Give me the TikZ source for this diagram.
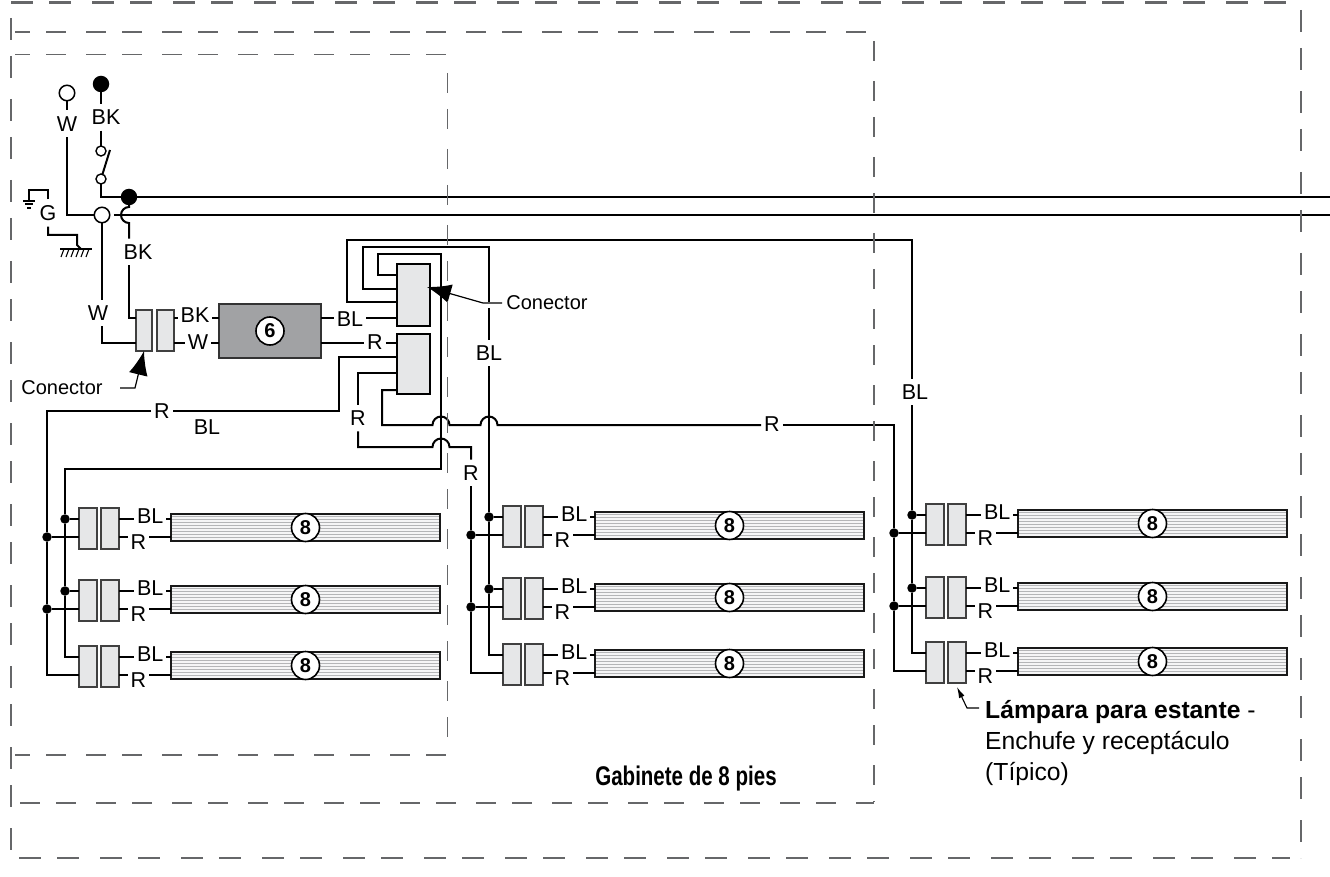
\documentclass[tikz,border=0pt]{standalone}
\usepackage{fontspec}
\setmainfont{Liberation Sans}
\newfontfamily\narrowbold[FakeStretch=0.76]{Liberation Sans Bold}
\usepackage{xcolor}
\usepackage{tikz}
\usetikzlibrary{arrows.meta, positioning, calc}
\definecolor{framegray}{HTML}{666769}
\definecolor{plugfill}{HTML}{E6E7E8}
\definecolor{ballastfill}{HTML}{A1A2A4}
\definecolor{stripegray}{HTML}{B4B5B7}
\tikzset{
	every node/.style={
		align=center,
	},
	every path/.style={
		align=center,
	},
}
\tikzstyle{wire} = [line width=2pt,black,line join=miter]
\tikzstyle{bus} = [line width=2.8pt,black]
\tikzstyle{outerframe} = [framegray,line width=2.4pt,dash pattern=on 22pt off 16pt on 22pt off 21pt]
\tikzstyle{caseframe} = [framegray,line width=2pt,dash pattern=on 20pt off 16pt on 20pt off 20pt]
\tikzstyle{shelfframe} = [framegray,line width=1.4pt,dash pattern=on 20pt off 16pt on 20pt off 20pt]
\tikzstyle{lbl} = [font=\fontsize{21.5}{24}\selectfont,inner xsep=3pt,inner ysep=6pt,outer sep=0pt]
\tikzstyle{note} = [font=\fontsize{20}{24}\selectfont,inner sep=0pt]
\tikzstyle{num} = [circle,draw=black,fill=white,line width=1.6pt,minimum size=28pt,inner sep=0pt,font=\fontsize{20}{20}\selectfont\bfseries]
\tikzstyle{plug} = [rectangle,draw=black!75,fill=plugfill,line width=1.1pt,minimum width=18pt,minimum height=41pt,inner sep=0pt,outer sep=0pt]
\tikzstyle{conbox} = [rectangle,draw=black,fill=plugfill,line width=1.6pt,minimum width=33pt,inner sep=0pt,outer sep=0pt]
\tikzstyle{ballast} = [rectangle,draw=black!80,fill=ballastfill,line width=1.3pt,minimum width=102pt,minimum height=54pt,inner sep=0pt,outer sep=0pt]
\tikzstyle{lamp} = [rectangle,draw=black!90,fill=plugfill!40,line width=1.3pt,minimum width=269pt,minimum height=27pt,inner sep=0pt,outer sep=0pt,
	path picture={
		\foreach \s in {2,5,8,11,14,17,20,23,26} {
			\draw[stripegray,line width=1pt] ([yshift=-\s pt]path picture bounding box.north west) -- ([yshift=-\s pt]path picture bounding box.north east);
		}
	}]
\tikzstyle{joint} = [circle,fill=black,minimum size=9.5pt,inner sep=0pt,outer sep=0pt]
\tikzstyle{source} = [circle,draw=black,fill=white,line width=1.5pt,minimum size=15.5pt,inner sep=0pt,outer sep=0pt]
\tikzstyle{solidsource} = [circle,fill=black,minimum size=16.5pt,inner sep=0pt,outer sep=0pt]
\tikzstyle{swpoint} = [circle,draw=black,fill=white,line width=1.4pt,minimum size=10pt,inner sep=0pt,outer sep=0pt]
\tikzstyle{bigpointer} = [line width=1.2pt,-{Latex[length=24pt,width=19pt]}]
\tikzstyle{smallpointer} = [line width=1.1pt,-{Latex[length=11pt,width=6pt]}]

\newcommand{\lampRow}[3]{
    \node[plug, anchor=north west] (#1p) at (#2,#3) {};
    \node[plug, right=4pt of #1p] (#1q) {};
    \node[lamp, right=52pt of #1q, yshift=1pt] (#1lamp) {};
    \node[num] (#1num) at (#1lamp) {8};
    \coordinate (#1u) at ([yshift=-11pt]#1p.north west);
    \coordinate (#1l) at ([yshift=-29pt]#1p.north west);
    \node[lbl, right=15pt of #1q, yshift=12.5pt] (#1bl) {BL};
    \node[lbl, right=8.5pt of #1q, yshift=-13.5pt] (#1r) {R};
    \draw[wire] (#1q.east |- #1u) -- (#1bl.west |- #1u);
    \draw[wire] (#1bl.east |- #1u) -- (#1lamp.west |- #1u);
    \draw[wire] (#1q.east |- #1l) -- (#1r.west |- #1l);
    \draw[wire] (#1r.east |- #1l) -- (#1lamp.west |- #1l);
}

\begin{document}
\begin{tikzpicture}[x=1pt,y=-1pt]
    \useasboundingbox (0,0) rectangle (1330,877);

    \node[source] (srcW) at (67,93) {};
    \node[solidsource] (srcBK) at (101,84) {};
    \node[lbl, below=9.5pt of srcW] (lblW) {W};
    \node[lbl, below=11.5pt of srcBK, xshift=5pt] (lblBK) {BK};
    \node[swpoint] (swTop) at (101,151) {};
    \node[swpoint] (swBot) at (101,179) {};
    \coordinate (bladeEnd) at (110,150);
    \node[solidsource] (junBK) at (129,197) {};
    \node[source] (junW) at (102,215) {};
    \coordinate (busBK) at (1330,197);
    \coordinate (busW) at (1330,215);
    \coordinate (hopBK) at (129,207);

    \node[lbl] (lblG) at (48,213) {G};
    \coordinate (gndE) at (29,201);
    \coordinate (gndC) at (81,249);

    \node[lbl] (lblBKb) at (138,252) {BK};
    \node[lbl] (lblWb) at (98,313) {W};

    \node[plug, anchor=north west, minimum width=16pt] (inL) at (136,310) {};
    \node[plug, right=5pt of inL, minimum width=17pt] (inR) {};
    \coordinate (inLu) at ([yshift=-8pt]inL.north west);
    \coordinate (inLd) at ([yshift=-33pt]inL.north west);
    \node[lbl] (lblBKc) at (195,315) {BK};
    \node[lbl] (lblWc) at (198,342) {W};
    \node[ballast] (ball) at (270,331) {};
    \node[num] (ballnum) at (ball) {6};
    \node[lbl] (lblBLa) at (350,319) {BL};
    \node[lbl] (lblRe) at (375,342) {R};

    \node[conbox, anchor=north west, minimum height=62pt] (conA) at (397,264) {};
    \node[conbox, below=8pt of conA, minimum height=60pt] (conB) {};
    \coordinate (a1) at ([yshift=-11pt]conA.north west);
    \coordinate (a2) at ([yshift=-25pt]conA.north west);
    \coordinate (a3) at ([yshift=-38pt]conA.north west);
    \coordinate (a4) at ([yshift=-54pt]conA.north west);
    \coordinate (b1) at ([yshift=-9pt]conB.north west);
    \coordinate (b2) at ([yshift=-23pt]conB.north west);
    \coordinate (b3) at ([yshift=-39pt]conB.north west);
    \coordinate (b4) at ([yshift=-56pt]conB.north west);

    \node[lbl] (lblBLd) at (489,353) {BL};
    \node[lbl] (lblBLe) at (915,392) {BL};
    \coordinate (cornC) at (912,240);
    \node[lbl] (lblRa) at (162,411) {R};
    \node[lbl] (lblBLf) at (207,427) {BL};
    \node[lbl] (lblRb) at (358,418) {R};
    \node[lbl] (lblRc) at (471,473) {R};
    \node[lbl] (lblRd) at (772,424) {R};

    \lampRow{A1}{79}{508}
    \lampRow{A2}{79}{580}
    \lampRow{A3}{79}{646}
    \lampRow{B1}{503}{506}
    \lampRow{B2}{503}{578}
    \lampRow{B3}{503}{644}
    \lampRow{C1}{926}{504}
    \lampRow{C2}{926}{577}
    \lampRow{C3}{926}{642}

    \node[joint] (dotA1u) at (65,519) {};
    \node[joint] (dotA2u) at (65,591) {};
    \node[joint] (dotA1l) at (47,537) {};
    \node[joint] (dotA2l) at (47,609) {};
    \node[joint] (dotB1u) at (489,517) {};
    \node[joint] (dotB2u) at (489,589) {};
    \node[joint] (dotB1l) at (471,535) {};
    \node[joint] (dotB2l) at (471,607) {};
    \node[joint] (dotC1u) at (912,515) {};
    \node[joint] (dotC2u) at (912,588) {};
    \node[joint] (dotC1l) at (894,533) {};
    \node[joint] (dotC2l) at (894,606) {};

    \node[note] (lblConL) at (62,388) {Conector};
    \node[note] (lblConA) at (547,303) {Conector};
    \coordinate (leadL) at (120,388);
    \coordinate (leadA) at (502,303);
    \coordinate (tipA) at (427,287);
    \coordinate (leadP) at (979,708);
    \coordinate (tipP) at (957,687);
    \node[font=\fontsize{24.7}{31}\selectfont, align=left, anchor=north west, inner sep=0pt] (lblPlug) at (985,700) {\textbf{Lámpara para estante} -\\Enchufe y receptáculo\\(Típico)};
    \node[font=\fontsize{27}{30}\narrowbold, inner sep=0pt] (lblCase) at (686,779) {Gabinete de 8 pies};

    \draw[wire] (srcW) -- (lblW);
    \draw[wire] (lblW) |- (junW);
    \draw[wire] (srcBK) -- (srcBK |- lblBK.north);
    \draw[wire] (srcBK |- lblBK.south) -- (swTop);
    \draw[wire] (swBot) -- (bladeEnd);
    \draw[wire] (swBot) |- (junBK);
    \draw[bus] (junBK) -- (busBK);
    \draw[bus, shorten <=4pt] (junW) -- (busW);

    \draw[wire] (junBK) -- (hopBK) arc[start angle=90,end angle=270,radius=8pt] -- (hopBK |- lblBKb.north);
    \draw[wire] (hopBK |- lblBKb.south) |- (inLu);
    \draw[wire] (junW) -- (junW |- lblWb.north);
    \draw[wire] (junW |- lblWb.south) |- (inLd);

    \draw[wire] (lblG.north) -- (48,190) -- (29,190) -- (gndE);
    \draw[wire] ([xshift=-6pt]gndE) -- ([xshift=6pt]gndE);
    \draw[wire] ([shift={(-4pt,-3.5pt)}]gndE) -- ([shift={(4pt,-3.5pt)}]gndE);
    \draw[wire] ([shift={(-2pt,-7pt)}]gndE) -- ([shift={(2pt,-7pt)}]gndE);
    \draw[wire] (lblG.south) -- (48,235) -- (77,235) -- (77,245) -- (gndC);
    \draw[wire] ([xshift=-21pt]gndC) -- ([xshift=11pt]gndC);
    \foreach \t in {-17,-12,...,8} {
        \draw[line width=1.1pt] ([xshift=\t pt]gndC) -- ([shift={(\t pt-3pt,-8pt)}]gndC);
    }

    \draw[wire] (inR.east |- inLu) -- (lblBKc.west |- inLu);
    \draw[wire] (lblBKc.east |- inLu) -- (ball.west |- inLu);
    \draw[wire] (inR.east |- inLd) -- (lblWc.west |- inLd);
    \draw[wire] (lblWc.east |- inLd) -- (ball.west |- inLd);
    \draw[wire] (ball.east |- a4) -- (lblBLa.west |- a4);
    \draw[wire] (lblBLa.east |- a4) -- (a4);
    \draw[wire] (ball.east |- b1) -- (lblRe.west |- b1);
    \draw[wire] (lblRe.east |- b1) -- (b1);

    \draw[wire] (a1) -- (378,275) -- (378,254) -- (441,254) -- (441,469) -- (65,469) -- (dotA1u);
    \draw[wire] (dotA1u) -- (dotA2u) |- (A3u);
    \draw[wire] (a2) -- (363,289) -- (363,247) -- (489,247) -- (489,302);
    \draw[wire] (489,308) -- (lblBLd.north);
    \draw[wire] (lblBLd.south) -- (dotB1u) -- (dotB2u) |- (B3u);
    \draw[wire] (a3) -- (347,302) -- (347,240) -- (cornC) -- (cornC |- lblBLe.north);
    \draw[wire] (cornC |- lblBLe.south) -- (dotC1u) -- (dotC2u) |- (C3u);

    \draw[wire] (b2) -- (339,357) -- (339,411) -- (lblRa.east |- 339,411);
    \draw[wire] (lblRa.west |- 339,411) -- (47,411) -- (dotA1l) -- (dotA2l) |- (A3l);
    \draw[wire] (b3) -- (358,373) -- (lblRb.north);
    \draw[wire] (lblRb.south) -- (358,447) -- (432.5,447) arc[start angle=180,end angle=0,radius=8.5pt] -- (471,447) -- (lblRc.north);
    \draw[wire] (lblRc.south) -- (dotB1l) -- (dotB2l) |- (B3l);
    \draw[wire] (b4) -- (382,390) -- (382,425) -- (432.5,425) arc[start angle=180,end angle=0,radius=8.5pt] -- (480.5,425) arc[start angle=180,end angle=0,radius=8.5pt] -- (lblRd.west |- 382,425);
    \draw[wire] (lblRd.east |- 382,425) -- (894,425) -- (dotC1l) -- (dotC2l) |- (C3l);

    \draw[wire] (dotA1u) -- (A1u);
    \draw[wire] (dotA2u) -- (A2u);
    \draw[wire] (dotA1l) -- (A1l);
    \draw[wire] (dotA2l) -- (A2l);
    \draw[wire] (dotB1u) -- (B1u);
    \draw[wire] (dotB2u) -- (B2u);
    \draw[wire] (dotB1l) -- (B1l);
    \draw[wire] (dotB2l) -- (B2l);
    \draw[wire] (dotC1u) -- (C1u);
    \draw[wire] (dotC2u) -- (C2u);
    \draw[wire] (dotC1l) -- (C1l);
    \draw[wire] (dotC2l) -- (C2l);

    \draw[bigpointer] (leadL) -- (135,388) -- (inL.south);
    \draw[bigpointer] (leadA) -- (483,303) -- (tipA);
    \draw[smallpointer] (leadP) -- (967,708) -- (tipP);

    \draw[outerframe] (11,18) -- (11,858);
    \draw[outerframe] (11,2.5) -- (1290,2.5);
    \draw[outerframe] (1301,10) -- (1301,858);
    \draw[outerframe] (19,858) -- (1290,858);
    \draw[caseframe, dash phase=5pt] (15,32) -- (867,32);
    \draw[caseframe, dash phase=36pt] (873.5,41) -- (873.5,802);
    \draw[caseframe] (20,802.5) -- (873.5,802.5);
    \draw[shelfframe, dash phase=5pt] (15,54.5) -- (447.5,54.5);
    \draw[shelfframe] (447.5,73) -- (447.5,755);
    \draw[shelfframe, dash phase=5pt] (15,755) -- (447.5,755);

\end{tikzpicture}
\end{document}
